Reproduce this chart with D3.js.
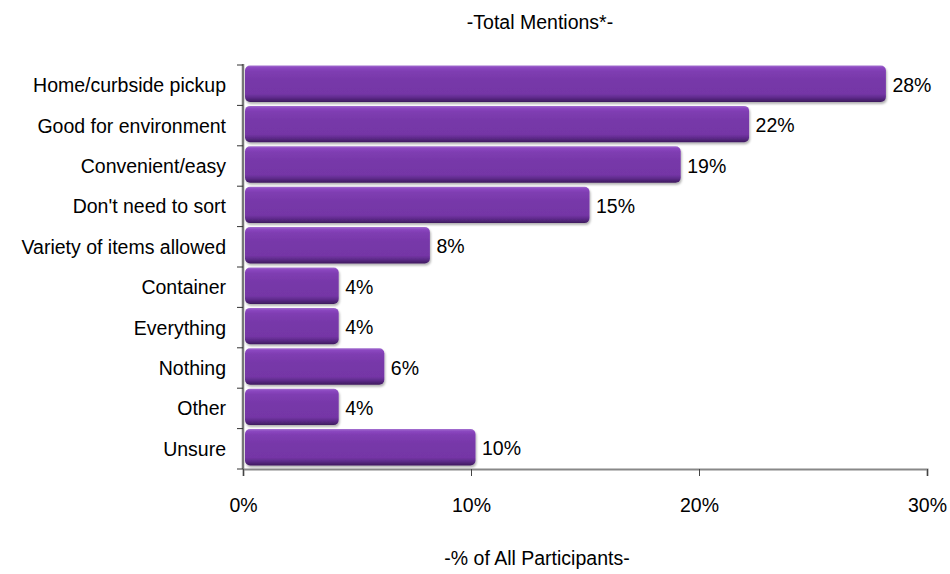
<!DOCTYPE html>
<html>
<head>
<meta charset="utf-8">
<script src="https://cdn.jsdelivr.net/npm/d3@7"></script>
<style>
  body { margin: 0; background: #fff; }
  text { font-family: "Liberation Sans", Arial, sans-serif; fill: #000; }
</style>
</head>
<body>
<div id="chart"></div>
<script>
const categories = ['Home/curbside pickup', 'Good for environment', 'Convenient/easy', "Don't need to sort",
  'Variety of items allowed', 'Container', 'Everything', 'Nothing', 'Other', 'Unsure'];
const values = [28, 22, 19, 15, 8, 4, 4, 6, 4, 10];
const xTicks = [0, 10, 20, 30];
const title = '-Total Mentions*-';
const xTitle = '-% of All Participants-';

const width = 950, height = 574;
const margin = { top: 65, right: 23, bottom: 105, left: 243 };
const fontSize = '19.5px';

const svg = d3.select('#chart').append('svg')
  .attr('width', width)
  .attr('height', height);

const defs = svg.append('defs');
const grad = defs.append('linearGradient')
  .attr('id', 'barGrad')
  .attr('x1', 0).attr('y1', 0).attr('x2', 0).attr('y2', 1);
[['0%', '#a36fd0'], ['6%', '#8b47c0'], ['16%', '#7f3db2'], ['40%', '#7738a9'],
 ['78%', '#7536a6'], ['88%', '#5f2b8c'], ['100%', '#3e1b5e']]
  .forEach(s => grad.append('stop').attr('offset', s[0]).attr('stop-color', s[1]));

const shadow = defs.append('filter').attr('id', 'shadow')
  .attr('x', '-5%').attr('y', '-20%').attr('width', '115%').attr('height', '150%');
shadow.append('feDropShadow').attr('dx', 1).attr('dy', 2).attr('stdDeviation', 1.2)
  .attr('flood-color', '#000').attr('flood-opacity', 0.3);

const x = d3.scaleLinear()
  .domain([0, 30])
  .range([margin.left, width - margin.right]);

const y = d3.scaleBand()
  .domain(categories)
  .range([margin.top, height - margin.bottom])
  .paddingInner(0)
  .paddingOuter(0);

const barH = y.bandwidth() - 4;

// bars
svg.selectAll('.bar')
  .data(categories)
  .join('rect')
  .attr('class', 'bar')
  .attr('x', x(0) + 2)
  .attr('y', d => y(d) + 0.5)
  .attr('width', (d, i) => x(values[i]) - x(0) + 2.5)
  .attr('height', barH)
  .attr('rx', 5).attr('ry', 5)
  .attr('fill', 'url(#barGrad)')
  .attr('filter', 'url(#shadow)');

// value labels
svg.selectAll('.val')
  .data(categories)
  .join('text')
  .attr('class', 'val')
  .attr('x', (d, i) => x(values[i]) + 11)
  .attr('y', d => y(d) + barH / 2 + 8.5)
  .style('font-size', fontSize)
  .text((d, i) => values[i] + '%');

// x axis
const xAxis = d3.axisBottom(x)
  .tickValues(xTicks)
  .tickFormat(d => d + '%')
  .tickSize(7)
  .tickPadding(22);
const gx = svg.append('g')
  .attr('transform', `translate(0, ${height - margin.bottom})`)
  .call(xAxis);
gx.select('.domain').attr('stroke', '#888').attr('stroke-width', 2);
gx.selectAll('.tick line').attr('stroke', '#444');
gx.selectAll('.tick text').style('font-size', fontSize).attr('fill', '#000')
  .style('font-family', '"Liberation Sans", Arial, sans-serif');

// y axis: line plus ticks at band boundaries
const gy = svg.append('g');
gy.append('line')
  .attr('x1', x(0)).attr('x2', x(0))
  .attr('y1', y.range()[0] - 1).attr('y2', y.range()[1])
  .attr('stroke', '#777').attr('stroke-width', 2.5);
const bounds = categories.map(d => y(d)).concat([y.range()[1]]);
gy.selectAll('.ytick')
  .data(bounds)
  .join('line')
  .attr('class', 'ytick')
  .attr('x1', x(0) - 6).attr('x2', x(0))
  .attr('y1', d => d).attr('y2', d => d)
  .attr('stroke', '#333').attr('stroke-width', 1);

// category labels
svg.selectAll('.cat')
  .data(categories)
  .join('text')
  .attr('class', 'cat')
  .attr('x', x(0) - 17)
  .attr('y', d => y(d) + barH / 2 + 9)
  .attr('text-anchor', 'end')
  .style('font-size', fontSize)
  .text(d => d);

// titles
svg.append('text')
  .attr('x', 540).attr('y', 29)
  .attr('text-anchor', 'middle')
  .style('font-size', fontSize)
  .text(title);

svg.append('text')
  .attr('x', 537).attr('y', 565)
  .attr('text-anchor', 'middle')
  .style('font-size', fontSize)
  .text(xTitle);
</script>
</body>
</html>
